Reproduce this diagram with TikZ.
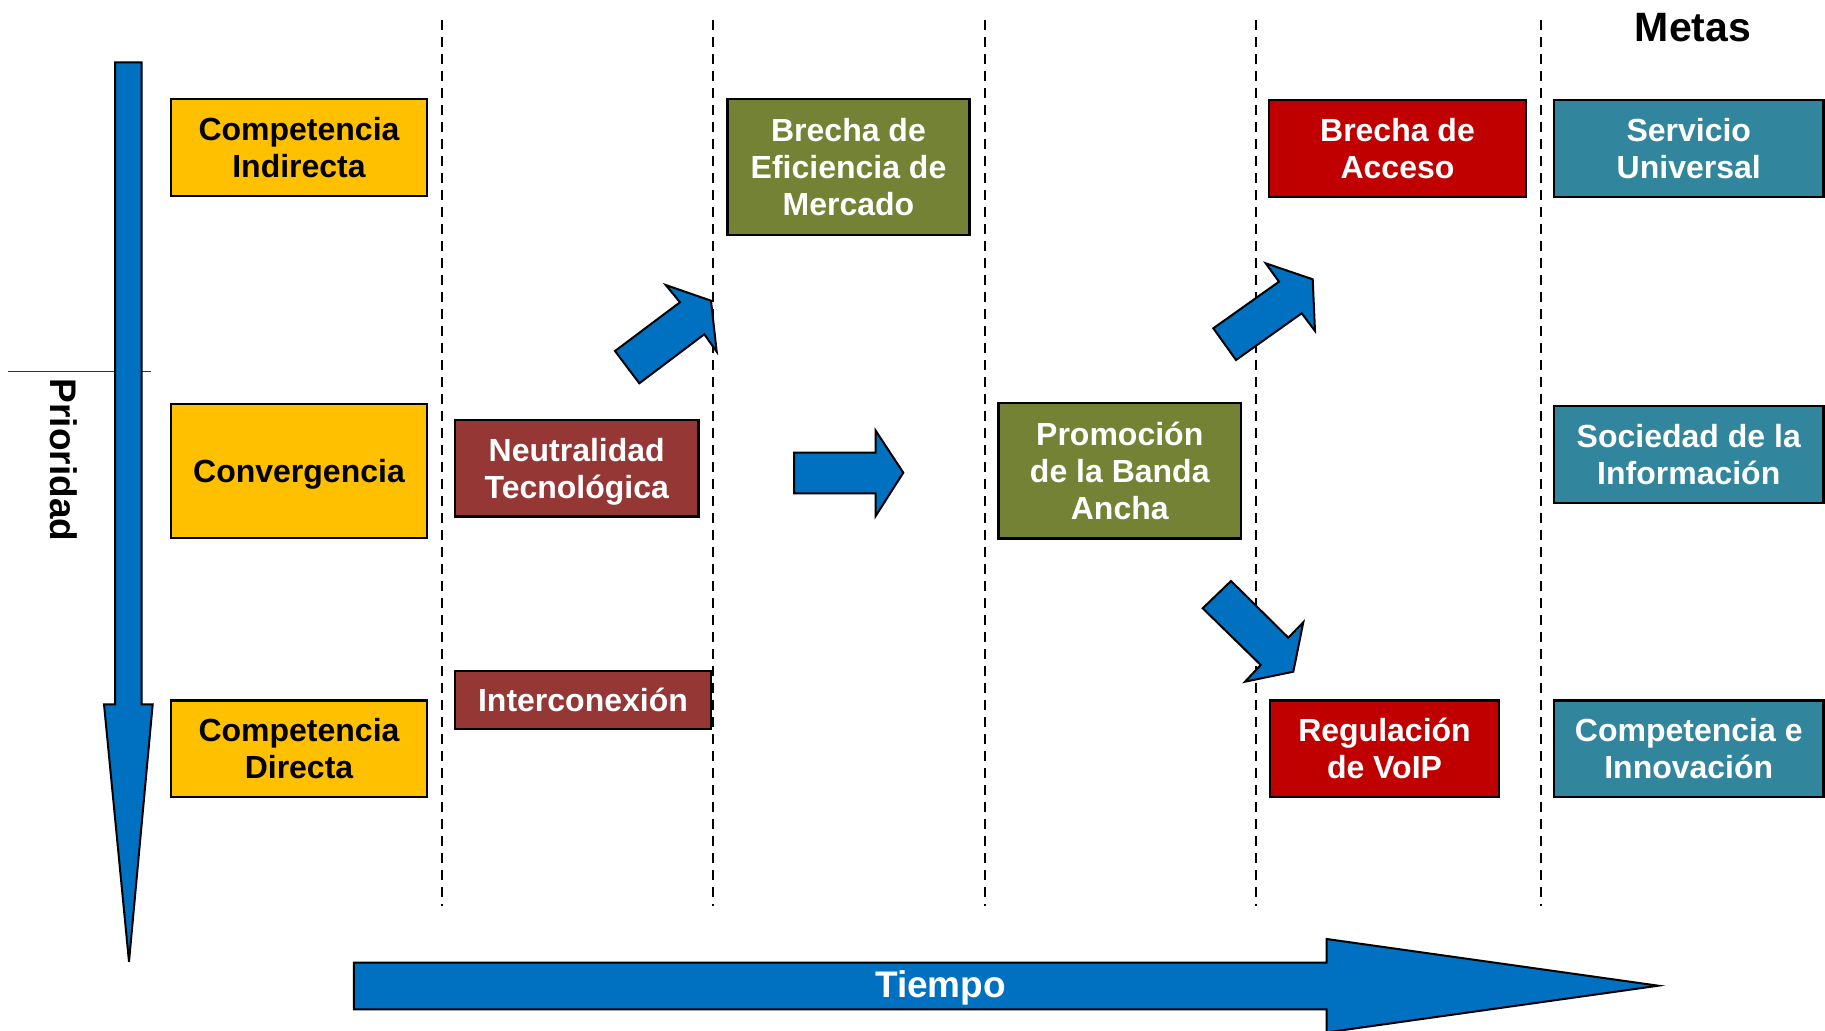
\documentclass[tikz,border=0pt]{standalone}
\usepackage{fontspec}
\setmainfont{Liberation Sans}
\definecolor{cyellow}{HTML}{FFC000}
\definecolor{cbrown}{HTML}{953735}
\definecolor{colive}{HTML}{738234}
\definecolor{cred}{HTML}{C00000}
\definecolor{cteal}{HTML}{31859C}
\definecolor{cblue}{HTML}{0070C0}
\newcommand{\nodepth}[1]{\raisebox{0pt}[\height][0pt]{#1}}
\begin{document}
\begin{tikzpicture}[x=0.5pt,y=-0.5pt,
  box/.style={draw=black, line width=1.25pt, inner sep=0pt, align=center,
    font=\bfseries\fontsize{16}{18.5}\selectfont},
  sz/.style 2 args={minimum width=#1*0.5pt, minimum height=#2*0.5pt},
  ybox/.style={box, fill=cyellow, text=black},
  bbox/.style={box, fill=cbrown, text=white},
  obox/.style={box, fill=colive, text=white},
  rbox/.style={box, fill=cred, text=white},
  tbox/.style={box, fill=cteal, text=white},
  divider/.style={draw=black, line width=1pt, dash pattern=on 5pt off 3.5pt},
  blockarrow/.style={fill=cblue, draw=black, line width=1pt, line join=miter},
  bigtext/.style={font=\bfseries\fontsize{18.5}{22}\selectfont}
]
\useasboundingbox (0,0) rectangle (1825,1031);

% thin mark line
\draw[black!80, line width=0.5pt] (8,372) -- (151,372);

% dashed dividers
\foreach \x in {442,713,985,1256,1541}{
  \draw[divider] (\x,20) -- (\x,906);
}

% priority arrow
\draw[blockarrow] (115,62.5) -- (141.7,62.5) -- (141.7,704.3) -- (152.7,704.3)
  -- (129,961.7) -- (104,704.3) -- (115,704.3) -- cycle;
\node[bigtext, rotate=-90] (prio) at (64,460) {Prioridad};

% time arrow
\draw[blockarrow] (353.8,962.7) -- (1326.7,962.7) -- (1326.7,939) -- (1658.3,985.7)
  -- (1326.7,1032.4) -- (1326.7,1009.3) -- (353.8,1009.3) -- cycle;
\node[bigtext, text=white, anchor=base] (tiempo) at (940.5,997) {Tiempo};

% goals title
\node[font=\bfseries\fontsize{20.5}{24}\selectfont] (metas) at (1693,28) {Metas};

% boxes
\node[ybox, sz={256}{97}] (ci) at (299,147.5) {Competencia\\Indirecta};
\node[ybox, sz={256}{134}] (conv) at (299,471) {\nodepth{Convergencia}};
\node[ybox, sz={256}{96.5}] (cd) at (299,748.75) {Competencia\\Directa};
\node[bbox, sz={243.5}{96.5}] (neut) at (576.75,468.25) {Neutralidad\\\nodepth{Tecnológica}};
\node[bbox, sz={256}{58}] (inter) at (583,700) {Interconexión};
\node[obox, sz={242}{136}] (bem) at (848.5,167) {Brecha de\\Eficiencia de\\Mercado};
\node[obox, sz={242.5}{135.5}] (prom) at (1119.75,470.75) {Promoción\\de la Banda\\Ancha};
\node[rbox, sz={257}{97}] (ba) at (1397.5,148.5) {Brecha de\\Acceso};
\node[rbox, sz={229}{96.5}] (voip) at (1384.5,748.75) {Regulación\\de VoIP};
\node[tbox, sz={269.5}{97}] (su) at (1688.75,148.5) {Servicio\\Universal};
\node[tbox, sz={269.5}{97}] (si) at (1688.75,454.5) {Sociedad de la\\Información};
\node[tbox, sz={269.5}{96.5}] (cei) at (1688.75,748.75) {Competencia e\\Innovación};

% block arrows
\draw[blockarrow] (615,351) -- (680,302.3) -- (665.7,285) -- (711,300.7)
  -- (716.7,351.7) -- (704.3,334.3) -- (639.3,383.3) -- cycle;
\draw[blockarrow] (794,452.7) -- (875.7,452.7) -- (875.7,430.7) -- (903.3,472.7)
  -- (875.7,516) -- (875.7,493.3) -- (794,493.3) -- cycle;
\draw[blockarrow] (1213.3,328.3) -- (1279,281.7) -- (1265.7,263.3) -- (1312.7,279.3)
  -- (1315,331) -- (1301.7,313.3) -- (1236,360) -- cycle;
\draw[blockarrow] (1231,581) -- (1288.3,637.7) -- (1303.3,622.3) -- (1293.3,671.7)
  -- (1245,681.7) -- (1260.7,665) -- (1202.7,608.3) -- cycle;
\end{tikzpicture}
\end{document}
